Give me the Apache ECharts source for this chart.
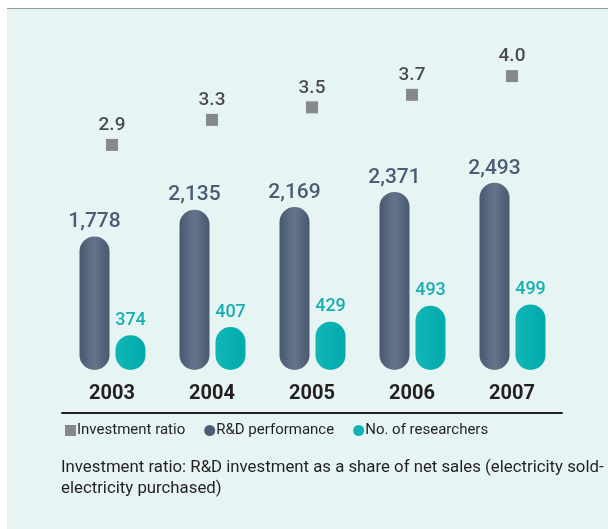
<!DOCTYPE html>
<html>
<head>
<meta charset="utf-8">
<script src="https://cdn.jsdelivr.net/npm/echarts@6/dist/echarts.min.js"></script>
<style>
html,body{margin:0;padding:0;background:#fff;}
#c{width:608px;height:529px;}
</style>
</head>
<body>
<div id="c"></div>
<script>
var years = ['2003', '2004', '2005', '2006', '2007'];
var investmentRatio = [2.9, 3.3, 3.5, 3.7, 4.0];
var rdPerformance = [1778, 2135, 2169, 2371, 2493];
var researchers = [374, 407, 429, 493, 499];
var seriesNames = ['Investment ratio', 'R&D performance', 'No. of researchers'];
var footnote = 'Investment ratio: R&D investment as a share of net sales (electricity sold-\nelectricity purchased)';

var FONT = 'Roboto';
var chart = echarts.init(document.getElementById('c'), null, {renderer: 'canvas'});

var darkGrad = new echarts.graphic.LinearGradient(0, 0, 1, 0, [
  {offset: 0, color: '#485a70'},
  {offset: 0.5, color: '#65748a'},
  {offset: 1, color: '#485a70'}
]);
var tealGrad = new echarts.graphic.LinearGradient(0, 0, 1, 0, [
  {offset: 0, color: '#12b6b6'},
  {offset: 1, color: '#00aaab'}
]);

chart.setOption({
  backgroundColor: '#ffffff',
  animation: false,
  graphic: [
    {type: 'rect', z: -10, shape: {x: 7, y: 9, width: 601, height: 520}, style: {fill: '#e6f4f4'}},
    {type: 'rect', z: -10, shape: {x: 7, y: 8, width: 601, height: 1}, style: {fill: '#9a9a9a'}}
  ],
  title: {
    text: footnote,
    left: 61, top: 457, padding: 0,
    textStyle: {fontFamily: FONT, fontSize: 16.8, fontWeight: 'normal', color: '#231f20', lineHeight: 21}
  },
  legend: {
    left: 65, top: 423, padding: 0,
    itemWidth: 11, itemHeight: 11, itemGap: 19,
    textStyle: {fontFamily: FONT, fontSize: 15, color: '#231f20', padding: [0, 0, 0, -4]},
    data: [
      {name: seriesNames[0], icon: 'rect', itemStyle: {color: '#6d6e70'}},
      {name: seriesNames[1], icon: 'circle', itemStyle: {color: '#4b5d74'}},
      {name: seriesNames[2], icon: 'circle', itemStyle: {color: '#10b2b2'}}
    ]
  },
  grid: [
    {left: 62, right: 46, top: 40, bottom: 116},
    {left: 44.5, right: 63.5, top: 40, bottom: 159},
    {left: 80.5, right: 27.5, top: 40, bottom: 159}
  ],
  xAxis: [
    {type: 'category', gridIndex: 0, data: years,
     axisLine: {show: true, onZero: false, lineStyle: {color: '#231f20', width: 2}},
     axisTick: {show: false}, splitLine: {show: false},
     axisLabel: {inside: true, margin: 9, fontFamily: FONT, fontSize: 20, fontWeight: 'bold', color: '#231f20'}},
    {type: 'category', gridIndex: 1, data: years, show: false},
    {type: 'category', gridIndex: 2, data: years, show: false}
  ],
  yAxis: [
    {type: 'value', gridIndex: 0, min: -1.386, max: 4.577, show: false, splitLine: {show: false}},
    {type: 'value', gridIndex: 1, min: 0, max: 4394, show: false, splitLine: {show: false}},
    {type: 'value', gridIndex: 2, min: 233, max: 1571, show: false, splitLine: {show: false}}
  ],
  series: [
    {name: seriesNames[1], type: 'bar', xAxisIndex: 1, yAxisIndex: 1, data: rdPerformance,
     barWidth: 30, itemStyle: {color: darkGrad, borderRadius: 15},
     label: {show: true, position: 'top', distance: 4, fontFamily: FONT, fontSize: 21, fontWeight: 500, color: '#4b5d74',
       formatter: function (p) { return p.value.toLocaleString('en-US'); }}},
    {name: seriesNames[2], type: 'bar', xAxisIndex: 2, yAxisIndex: 2, data: researchers,
     barWidth: 30, itemStyle: {color: tealGrad, borderRadius: 15},
     label: {show: true, position: 'top', distance: 6, fontFamily: FONT, fontSize: 18, fontWeight: 500, color: '#19afb0'}},
    {name: seriesNames[0], type: 'scatter', xAxisIndex: 0, yAxisIndex: 0, data: investmentRatio,
     symbol: 'rect', symbolSize: 12, itemStyle: {color: '#6d6e70'},
     label: {show: true, position: 'top', distance: 4, fontFamily: FONT, fontSize: 19, fontWeight: 500, color: '#231f20',
       formatter: function (p) { return p.value.toFixed(1); }}}
  ]
});
</script>
</body>
</html>
